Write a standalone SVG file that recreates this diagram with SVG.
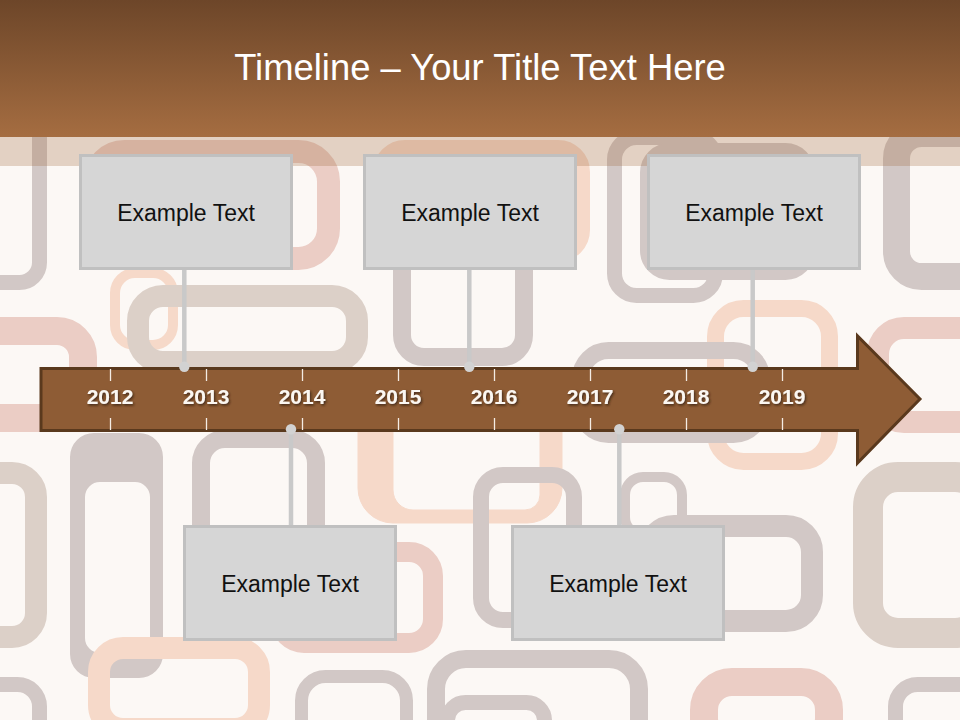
<svg xmlns="http://www.w3.org/2000/svg" width="960" height="720" viewBox="0 0 960 720">
<defs>
<linearGradient id="hdr" x1="0" y1="0" x2="0" y2="1">
<stop offset="0" stop-color="#6d4629"/>
<stop offset="1" stop-color="#a56d41"/>
</linearGradient>
<filter id="sh" x="-20%" y="-20%" width="140%" height="160%">
<feDropShadow dx="1.2" dy="1.5" stdDeviation="0.8" flood-color="#2a1a0c" flood-opacity="0.75"/>
</filter>
</defs>
<style>
.r{fill:none}
.g{stroke:#d2c8c6}
.p{stroke:#f6d9c9}
.k{stroke:#ebcdc5}
.b{stroke:#dcd0c8}
.box{fill:#d6d6d6;stroke:#c0c0c0;stroke-width:3}
.bt{font-family:"Liberation Sans",Arial,sans-serif;font-size:23px;fill:#111;text-anchor:middle}
.yr{font-family:"Liberation Sans",Arial,sans-serif;font-size:21px;font-weight:bold;fill:#fbf7f2;text-anchor:middle;filter:url(#sh)}
.cl{stroke:#c9c9c9;stroke-width:4.5;fill:none}
.dot{fill:#d2d2d2}
.tk{stroke:#f4ece4;stroke-width:1.3}
</style>
<rect x="0" y="0" width="960" height="720" fill="#fcf8f5"/>
<g id="pattern">
<rect class="r g" x="-52" y="68" width="91.5" height="214.5" rx="20" stroke-width="15"/>
<rect class="r k" x="94.5" y="151.5" width="234" height="107" rx="30" stroke-width="23"/>
<rect class="r p" x="380" y="147" width="203" height="108" rx="25" stroke-width="14"/>
<rect class="r g" x="614.5" y="137.5" width="101" height="158" rx="22" stroke-width="15"/>
<rect class="r g" x="647.5" y="150.5" width="160" height="122" rx="22" stroke-width="15"/>
<rect class="r g" x="896.5" y="133.5" width="90" height="143" rx="25" stroke-width="27"/>
<rect class="r p" x="115" y="273" width="58" height="72" rx="20" stroke-width="10"/>
<rect class="r b" x="138" y="296" width="219" height="66" rx="25" stroke-width="22"/>
<rect class="r g" x="402" y="209" width="122" height="148" rx="22" stroke-width="18"/>
<rect class="r k" x="-26" y="331" width="109" height="87" rx="26" stroke-width="28"/>
<rect class="r p" x="715.5" y="308.5" width="114" height="153" rx="28" stroke-width="17"/>
<rect class="r k" x="878" y="328" width="111" height="94" rx="26" stroke-width="22"/>
<rect class="r g" x="580.5" y="350.5" width="181" height="84" rx="28" stroke-width="17"/>
<path class="p" fill="#f6d9c9" stroke="none" fill-rule="evenodd" d="M393,385 H527 A35,35 0 0 1 562,420 V488 A35,35 0 0 1 527,523 H393 A35,35 0 0 1 358,488 V420 A35,35 0 0 1 393,385 Z M413,400 H525 A15,15 0 0 1 540,415 V495 A15,15 0 0 1 525,510 H413 A20,20 0 0 1 393,490 V420 A20,20 0 0 1 413,400 Z"/>
<path fill="#d2c8c6" fill-rule="evenodd" d="M94,433 H139 A24,24 0 0 1 163,457 V654 A24,24 0 0 1 139,678 H94 A24,24 0 0 1 70,654 V457 A24,24 0 0 1 94,433 Z M100,482 H135 A15,15 0 0 1 150,497 V638 A15,15 0 0 1 135,653 H100 A15,15 0 0 1 85,638 V497 A15,15 0 0 1 100,482 Z"/>
<rect class="r b" x="-49" y="473" width="85" height="164" rx="24" stroke-width="22"/>
<rect class="r g" x="201" y="439" width="115" height="152" rx="24" stroke-width="18"/>
<rect class="r g" x="481" y="475" width="93" height="145" rx="22" stroke-width="16"/>
<rect class="r g" x="625" y="477" width="57" height="58" rx="18" stroke-width="10"/>
<rect class="r g" x="648" y="526" width="164" height="95" rx="26" stroke-width="22"/>
<rect class="r k" x="280" y="552" width="153" height="91" rx="24" stroke-width="20"/>
<rect class="r b" x="868" y="477" width="117" height="156" rx="30" stroke-width="30"/>
<rect class="r p" x="99" y="648" width="160" height="81" rx="24" stroke-width="22"/>
<rect class="r g" x="-52.5" y="684.5" width="92" height="68" rx="22" stroke-width="15"/>
<rect class="r g" x="301.5" y="676.5" width="105" height="77" rx="24" stroke-width="13"/>
<rect class="r g" x="436" y="659" width="203" height="92" rx="30" stroke-width="18"/>
<rect class="r g" x="447.5" y="702.5" width="97" height="50" rx="18" stroke-width="15"/>
<rect class="r k" x="704" y="682" width="125" height="64" rx="28" stroke-width="28"/>
<rect class="r g" x="895.5" y="684.5" width="97" height="68" rx="22" stroke-width="15"/>
</g>
<rect x="0" y="137" width="960" height="29" fill="#a06a40" opacity="0.28"/>
<g id="header">
<rect x="0" y="0" width="960" height="137" fill="url(#hdr)"/>
<text x="480" y="80" font-family="Liberation Sans, Arial, sans-serif" font-size="36.4" fill="#ffffff" text-anchor="middle">Timeline – Your Title Text Here</text>
</g>
<g id="timeline-arrow">
<path d="M41,368.5 H857.5 V336 L920,399 L857.5,463 V430.5 H41 Z" fill="#8e5c35" stroke="#5a391d" stroke-width="3" stroke-linejoin="miter"/>
<g class="tk">
<line x1="110.5" y1="369" x2="110.5" y2="381"/><line x1="110.5" y1="418" x2="110.5" y2="430"/>
<line x1="206.5" y1="369" x2="206.5" y2="381"/><line x1="206.5" y1="418" x2="206.5" y2="430"/>
<line x1="302.5" y1="369" x2="302.5" y2="381"/><line x1="302.5" y1="418" x2="302.5" y2="430"/>
<line x1="398.5" y1="369" x2="398.5" y2="381"/><line x1="398.5" y1="418" x2="398.5" y2="430"/>
<line x1="494.5" y1="369" x2="494.5" y2="381"/><line x1="494.5" y1="418" x2="494.5" y2="430"/>
<line x1="590.5" y1="369" x2="590.5" y2="381"/><line x1="590.5" y1="418" x2="590.5" y2="430"/>
<line x1="686.5" y1="369" x2="686.5" y2="381"/><line x1="686.5" y1="418" x2="686.5" y2="430"/>
<line x1="782.5" y1="369" x2="782.5" y2="381"/><line x1="782.5" y1="418" x2="782.5" y2="430"/>
</g>
<text class="yr" x="110" y="404">2012</text>
<text class="yr" x="206" y="404">2013</text>
<text class="yr" x="302" y="404">2014</text>
<text class="yr" x="398" y="404">2015</text>
<text class="yr" x="494" y="404">2016</text>
<text class="yr" x="590" y="404">2017</text>
<text class="yr" x="686" y="404">2018</text>
<text class="yr" x="782" y="404">2019</text>
</g>
<g id="connectors">
<line class="cl" x1="184.3" y1="268" x2="184.3" y2="366"/>
<line class="cl" x1="469.3" y1="268" x2="469.3" y2="366"/>
<line class="cl" x1="752.7" y1="268" x2="752.7" y2="366"/>
<line class="cl" x1="291" y1="430" x2="291" y2="527"/>
<line class="cl" x1="619.3" y1="430" x2="619.3" y2="527"/>
<circle class="dot" cx="184.3" cy="366.7" r="5.2"/>
<circle class="dot" cx="469.3" cy="366.7" r="5.2"/>
<circle class="dot" cx="752.7" cy="366.7" r="5.2"/>
<circle class="dot" cx="291" cy="429.3" r="5.2"/>
<circle class="dot" cx="619.3" cy="429.3" r="5.2"/>
</g>
<g id="node-1"><rect class="box" x="80.5" y="155.5" width="211" height="113"/><text class="bt" x="186" y="221">Example Text</text></g>
<g id="node-2"><rect class="box" x="364.5" y="155.5" width="211" height="113"/><text class="bt" x="470" y="221">Example Text</text></g>
<g id="node-3"><rect class="box" x="648.5" y="155.5" width="211" height="113"/><text class="bt" x="754" y="221">Example Text</text></g>
<g id="node-4"><rect class="box" x="184.5" y="526.5" width="211" height="113"/><text class="bt" x="290" y="592">Example Text</text></g>
<g id="node-5"><rect class="box" x="512.5" y="526.5" width="211" height="113"/><text class="bt" x="618" y="592">Example Text</text></g>
</svg>
